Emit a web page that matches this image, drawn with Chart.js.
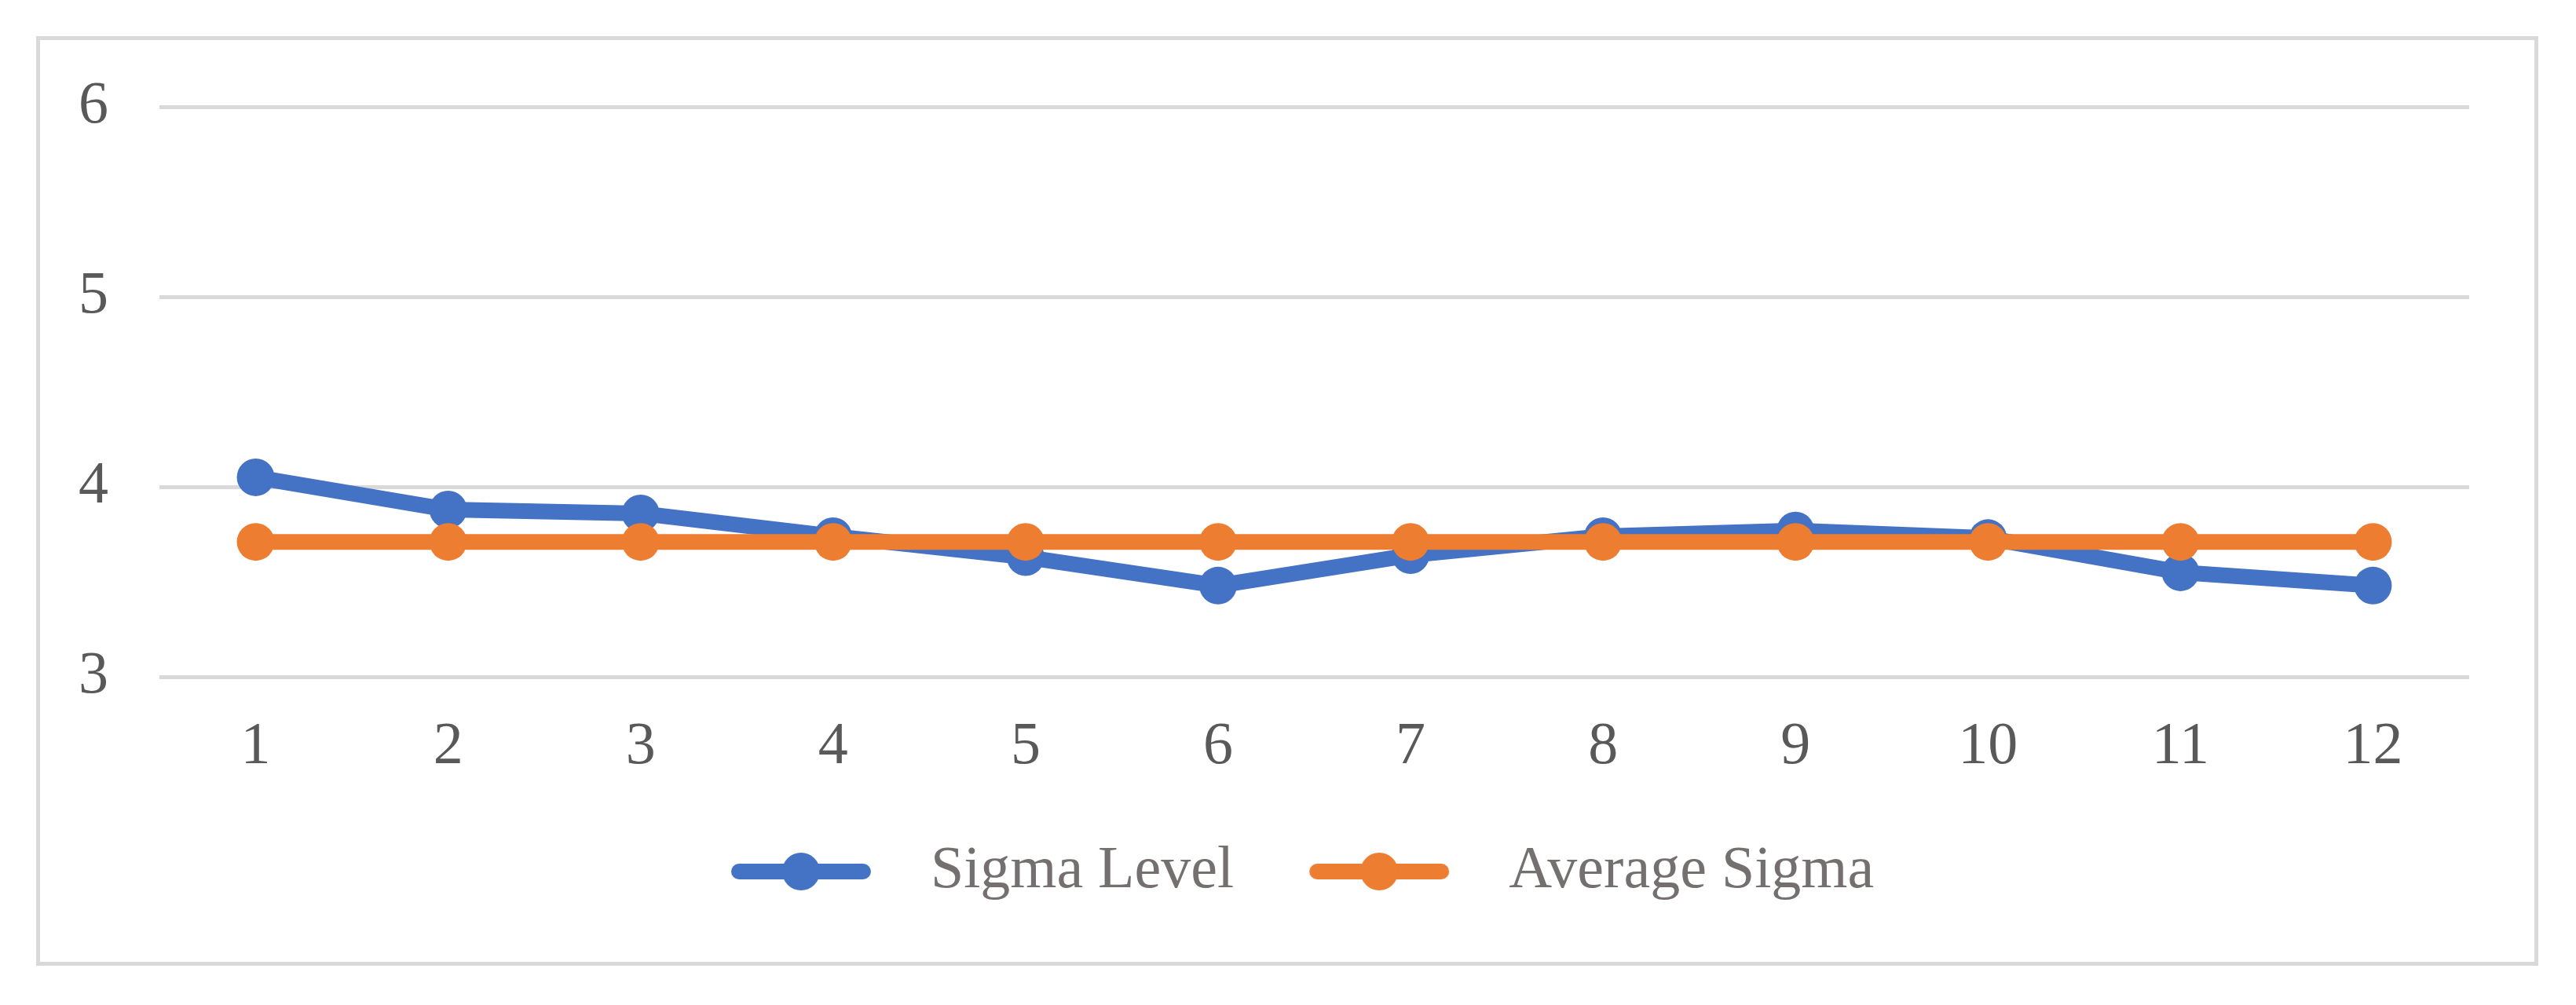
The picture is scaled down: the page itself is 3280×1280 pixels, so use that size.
<!DOCTYPE html>
<html>
<head>
<meta charset="utf-8">
<script src="https://cdn.jsdelivr.net/npm/chart.js@4.4.1/dist/chart.umd.min.js"></script>
<style>
    html, body { margin: 0; padding: 0; background: #fff; }
    #frame {
        position: absolute;
        left: 46px;
        top: 46px;
        width: 3176px;
        height: 1174px;
        border: 5px solid #d9d9d9;
    }
</style>
</head>
<body>
<div id="frame"><canvas id="sigmaChart"></canvas></div>
<script>
// --- Data ---
const periods = ['1', '2', '3', '4', '5', '6', '7', '8', '9', '10', '11', '12'];
const sigmaLevel = [4.05, 3.88, 3.86, 3.74, 3.63, 3.48, 3.64, 3.74, 3.77, 3.73, 3.55, 3.48];
const averageSigma = [3.71, 3.71, 3.71, 3.71, 3.71, 3.71, 3.71, 3.71, 3.71, 3.71, 3.71, 3.71];
const yTicks = [3, 4, 5, 6];

const BLUE = '#4472c4';
const ORANGE = '#ed7d31';
const FONT = 'Liberation Serif, "Times New Roman", serif';

// legend swatch: thick line with a dot in the middle
// (blank room on the left shifts the legend row, blank room on the right is the gap to the text)
function legendSwatch(color) {
    const c = document.createElement('canvas');
    c.width = 298;
    c.height = 52;
    const g = c.getContext('2d');
    g.strokeStyle = color;
    g.lineWidth = 20;
    g.lineCap = 'round';
    g.beginPath();
    g.moveTo(92, 26);
    g.lineTo(250, 26);
    g.stroke();
    g.fillStyle = color;
    g.beginPath();
    g.arc(171, 26, 24, 0, Math.PI * 2);
    g.fill();
    return c;
}
const swatches = [legendSwatch(BLUE), legendSwatch(ORANGE)];

const ctx = document.getElementById('sigmaChart').getContext('2d');
new Chart(ctx, {
    type: 'line',
    data: {
        labels: periods,
        datasets: [{
            label: 'Sigma Level',
            data: sigmaLevel,
            borderColor: BLUE,
            backgroundColor: BLUE,
            borderWidth: 20,
            borderJoinStyle: 'round',
            borderCapStyle: 'round',
            pointRadius: 24,
            pointBorderWidth: 0,
            pointBackgroundColor: BLUE,
            tension: 0,
            order: 1
        }, {
            label: 'Average Sigma',
            data: averageSigma,
            borderColor: ORANGE,
            backgroundColor: ORANGE,
            borderWidth: 20,
            borderJoinStyle: 'round',
            borderCapStyle: 'round',
            pointRadius: 24,
            pointBorderWidth: 0,
            pointBackgroundColor: ORANGE,
            tension: 0,
            order: 0 // drawn on top of the blue line
        }]
    },
    options: {
        responsive: true,
        maintainAspectRatio: false,
        devicePixelRatio: 1,
        animation: false,
        layout: {
            padding: { left: 40, top: 85, right: 83, bottom: 67 }
        },
        scales: {
            x: {
                offset: true,
                grid: { display: false },
                border: { display: false },
                ticks: {
                    color: '#595959',
                    font: { family: FONT, size: 76 },
                    padding: 36,
                    maxRotation: 0
                },
                afterFit: (scale) => { scale.height = 196; }
            },
            y: {
                min: 3,
                max: 6,
                afterBuildTicks: (scale) => { scale.ticks = yTicks.map(v => ({ value: v })); },
                grid: { color: '#d9d9d9', lineWidth: 5, drawTicks: false },
                border: { display: false },
                ticks: {
                    color: '#595959',
                    font: { family: FONT, size: 76 },
                    padding: 65
                },
                afterFit: (scale) => {
                    scale.width = 112;
                    // the tick padding would otherwise push the plot down
                    scale.paddingTop = 0;
                    scale.paddingBottom = 0;
                }
            }
        },
        plugins: {
            legend: {
                position: 'bottom',
                labels: {
                    usePointStyle: true,
                    pointStyleWidth: 298,
                    padding: 14,
                    color: '#757070',
                    font: { family: FONT, size: 76 },
                    sort: (a, b) => a.datasetIndex - b.datasetIndex,
                    generateLabels: (chart) => {
                        const items = Chart.defaults.plugins.legend.labels.generateLabels(chart);
                        items.forEach(it => { it.pointStyle = swatches[it.datasetIndex]; });
                        return items;
                    }
                }
            },
            tooltip: { enabled: false }
        }
    }
});
</script>
</body>
</html>
